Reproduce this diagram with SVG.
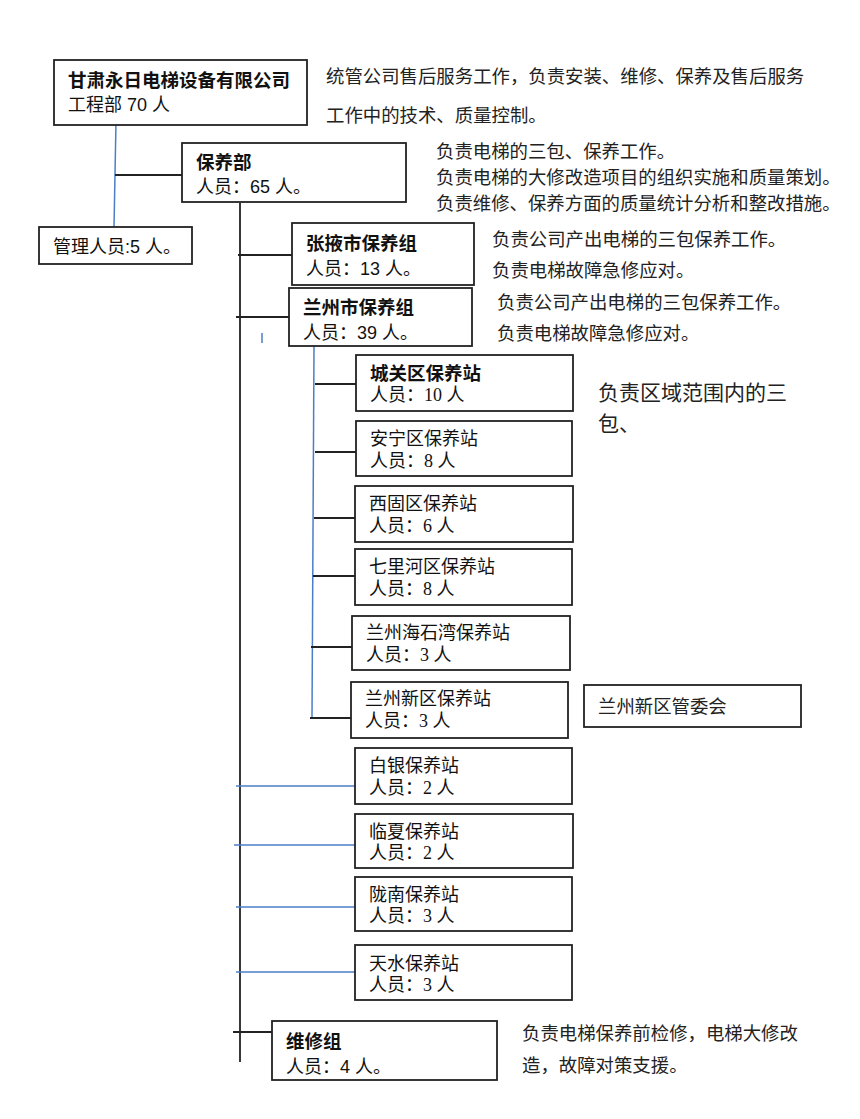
<svg xmlns="http://www.w3.org/2000/svg" width="860" height="1119" viewBox="0 0 860 1119">
<style>
.b{fill:#fff;stroke:#222;stroke-width:1.8}
.t{font-family:"Liberation Sans","Noto Sans CJK SC",sans-serif;font-size:18px;fill:#111}
.tb{font-family:"Liberation Sans","Noto Sans CJK SC",sans-serif;font-size:18.5px;font-weight:bold;fill:#111}
.s{font-family:"Liberation Serif","Noto Sans CJK SC",serif;font-size:18px;fill:#111}
.d{font-family:"Liberation Serif","Noto Sans CJK SC",serif;font-size:18.4px;fill:#222}
.big{font-size:21px}
.k{stroke:#222;stroke-width:1.8;fill:none}
.u{stroke:#4a7fc8;stroke-width:1.5;fill:none}
</style>
<rect width="860" height="1119" fill="#fff"/>
<g id="connectors">
<line class="u" x1="116" y1="121" x2="114" y2="228"/>
<line class="k" x1="115" y1="175" x2="182" y2="175"/>
<line class="k" x1="240" y1="203" x2="240" y2="1062"/>
<line class="k" x1="238" y1="255" x2="292" y2="255"/>
<line class="k" x1="236" y1="317" x2="289" y2="317"/>
<line class="u" x1="262" y1="333" x2="262" y2="343"/>
<line class="u" x1="314" y1="346" x2="312" y2="718"/>
<line class="k" x1="315" y1="384" x2="356" y2="384"/>
<line class="k" x1="315" y1="452" x2="356" y2="452"/>
<line class="k" x1="314" y1="518" x2="355" y2="518"/>
<line class="k" x1="313" y1="576" x2="355" y2="576"/>
<line class="k" x1="311" y1="647" x2="352" y2="647"/>
<line class="k" x1="310" y1="718" x2="351" y2="718"/>
<line class="u" x1="236" y1="786" x2="355" y2="786"/>
<line class="u" x1="234" y1="845" x2="355" y2="845"/>
<line class="u" x1="236" y1="907" x2="355" y2="907"/>
<line class="u" x1="236" y1="972" x2="355" y2="972"/>
<line class="k" x1="233" y1="1032" x2="272" y2="1032"/>
</g>
<g id="n-company"><rect class="b" x="54" y="60" width="253" height="65"/><text class="tb" x="68" y="87">甘肃永日电梯设备有限公司</text><text class="t" x="68" y="111">工程部 70 人</text></g>
<g id="n-baoyang"><rect class="b" x="182" y="143" width="224" height="59"/><text class="tb" x="196" y="169">保养部</text><text class="t" x="196" y="193">人员：65 人。</text></g>
<g id="n-guanli"><rect class="b" x="39" y="227" width="153" height="37"/><text class="t" x="53" y="253">管理人员:5 人。</text></g>
<g id="n-zhangye"><rect class="b" x="292" y="223" width="182" height="62"/><text class="tb" x="306" y="250">张掖市保养组</text><text class="t" x="306" y="275">人员：13 人。</text></g>
<g id="n-lanzhou"><rect class="b" x="289" y="288" width="183" height="58"/><text class="tb" x="303" y="314">兰州市保养组</text><text class="t" x="303" y="339">人员：39 人。</text></g>
<g id="n-chengguan"><rect class="b" x="356" y="355" width="217" height="56"/><text class="tb" x="370" y="380">城关区保养站</text><text class="s" x="370" y="401">人员：10 人</text></g>
<g id="n-anning"><rect class="b" x="356" y="421" width="216" height="55"/><text class="s" x="370" y="445">安宁区保养站</text><text class="s" x="370" y="467">人员：8 人</text></g>
<g id="n-xigu"><rect class="b" x="355" y="486" width="218" height="56"/><text class="s" x="369" y="510">西固区保养站</text><text class="s" x="369" y="532">人员：6 人</text></g>
<g id="n-qilihe"><rect class="b" x="355" y="549" width="217" height="56"/><text class="s" x="369" y="573">七里河区保养站</text><text class="s" x="369" y="595">人员：8 人</text></g>
<g id="n-haishiwan"><rect class="b" x="352" y="616" width="218" height="54"/><text class="s" x="366" y="639">兰州海石湾保养站</text><text class="s" x="366" y="661">人员：3 人</text></g>
<g id="n-xinqu"><rect class="b" x="351" y="682" width="217" height="56"/><text class="s" x="365" y="705">兰州新区保养站</text><text class="s" x="365" y="727">人员：3 人</text></g>
<g id="n-guanweihui"><rect class="b" x="584" y="685" width="217" height="42"/><text class="d" x="598" y="713">兰州新区管委会</text></g>
<g id="n-baiyin"><rect class="b" x="355" y="748" width="217" height="56"/><text class="s" x="369" y="772">白银保养站</text><text class="s" x="369" y="794">人员：2 人</text></g>
<g id="n-linxia"><rect class="b" x="355" y="814" width="218" height="54"/><text class="s" x="369" y="838">临夏保养站</text><text class="s" x="369" y="859">人员：2 人</text></g>
<g id="n-longnan"><rect class="b" x="355" y="877" width="217" height="54"/><text class="s" x="369" y="901">陇南保养站</text><text class="s" x="369" y="922">人员：3 人</text></g>
<g id="n-tianshui"><rect class="b" x="355" y="945" width="217" height="55"/><text class="s" x="369" y="970">天水保养站</text><text class="s" x="369" y="991">人员：3 人</text></g>
<g id="n-weixiu"><rect class="b" x="272" y="1021" width="225" height="59"/><text class="tb" x="286" y="1048">维修组</text><text class="t" x="286" y="1073">人员：4 人。</text></g>
<g id="notes">
<text class="d" x="326" y="83">统管公司售后服务工作，负责安装、维修、保养及售后服务</text>
<text class="d" x="326" y="122">工作中的技术、质量控制。</text>
<text class="d" x="436" y="158">负责电梯的三包、保养工作。</text>
<text class="d" x="436" y="184">负责电梯的大修改造项目的组织实施和质量策划。</text>
<text class="d" x="436" y="210">负责维修、保养方面的质量统计分析和整改措施。</text>
<text class="d" x="492" y="246">负责公司产出电梯的三包保养工作。</text>
<text class="d" x="492" y="277">负责电梯故障急修应对。</text>
<text class="d" x="497" y="309">负责公司产出电梯的三包保养工作。</text>
<text class="d" x="497" y="340">负责电梯故障急修应对。</text>
<text class="d big" x="598" y="400">负责区域范围内的三</text>
<text class="d big" x="598" y="431">包、</text>
<text class="d" x="522" y="1040">负责电梯保养前检修，电梯大修改</text>
<text class="d" x="522" y="1072">造，故障对策支援。</text>
</g>
</svg>
